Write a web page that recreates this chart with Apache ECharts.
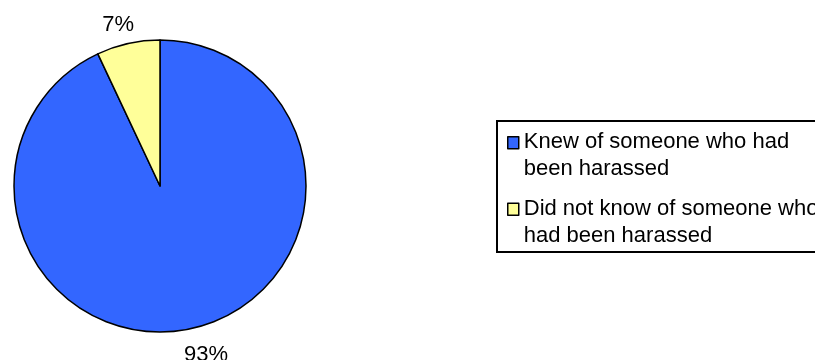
<!DOCTYPE html>
<html>
<head>
<meta charset="utf-8">
<script src="https://cdn.jsdelivr.net/npm/echarts@6/dist/echarts.min.js"></script>
<style>
	html, body {
		margin: 0;
		padding: 0;
		background: #fff;
	}
	#pieChart {
		width: 815px;
		height: 360px;
	}
</style>
</head>
<body>
<div id="pieChart"></div>
<script>
// 分类名称
const categories = ['Knew of someone who had been harassed', 'Did not know of someone who had been harassed'];
// 图例里的换行文字
const legendLines = ['Knew of someone who had\nbeen harassed', 'Did not know of someone who\nhad been harassed'];
// 百分比
const percents = [93, 7];
// 扇区颜色
const sliceColors = ['#3366FF', '#FFFF99'];

const FONT = "'Liberation Sans', Arial, sans-serif";
// 标签微调（原图的标签不完全在径向上）
const labelNudge = [[8, -1], [-4, 9]];

const buildData = () => categories.map((name, i) => ({
	name: name,
	value: percents[i],
	itemStyle: { color: sliceColors[i] },
}));

const drawPie = () => {
	let myChart = echarts.init(document.getElementById('pieChart'));
	myChart.setOption({
		backgroundColor: '#fff',
		animation: false,
		legend: {
			orient: 'vertical',
			left: 497,
			top: 121,
			padding: [7, 12, 2, 10],
			borderColor: '#000',
			borderWidth: 2,
			itemWidth: 11,
			itemHeight: 54,
			itemGap: 11,
			itemTextGap: 8,
			// 方块放在第一行旁边
			icon: 'path://M0,8h11v12h-11z M0,0 M0,54',
			itemStyle: {
				borderColor: '#000',
				borderWidth: 1.5,
			},
			textStyle: {
				fontFamily: FONT,
				fontSize: 22,
				lineHeight: 27,
				color: '#000',
			},
			formatter: function (name) {
				return legendLines[categories.indexOf(name)];
			},
			data: categories,
		},
		series: [
			{
				name: 'harassed',
				type: 'pie',
				center: [160, 186],
				radius: 146,
				startAngle: 90,
				clockwise: true,
				silent: true,
				itemStyle: {
					borderColor: '#000',
					borderWidth: 1.5,
				},
				label: { show: false },
				labelLine: { show: false },
				data: buildData(),
			},
			{
				// 透明外圈，只用来放百分比标签
				name: 'labels',
				type: 'pie',
				center: [160, 186],
				radius: [160, 182],
				startAngle: 90,
				clockwise: true,
				silent: true,
				legendHoverLink: false,
				itemStyle: {
					color: 'transparent',
					borderWidth: 0,
				},
				label: {
					show: true,
					position: 'inside',
					fontFamily: FONT,
					fontSize: 22,
					color: '#000',
					formatter: function (arg) {
						return arg.value + '%';
					},
				},
				labelLine: { show: false },
				labelLayout: function (params) {
					return { dx: labelNudge[params.dataIndex][0], dy: labelNudge[params.dataIndex][1] };
				},
				data: percents.map((v, i) => ({ name: categories[i] + ' ', value: v })),
			},
		],
	});
}

drawPie();
</script>
</body>
</html>
